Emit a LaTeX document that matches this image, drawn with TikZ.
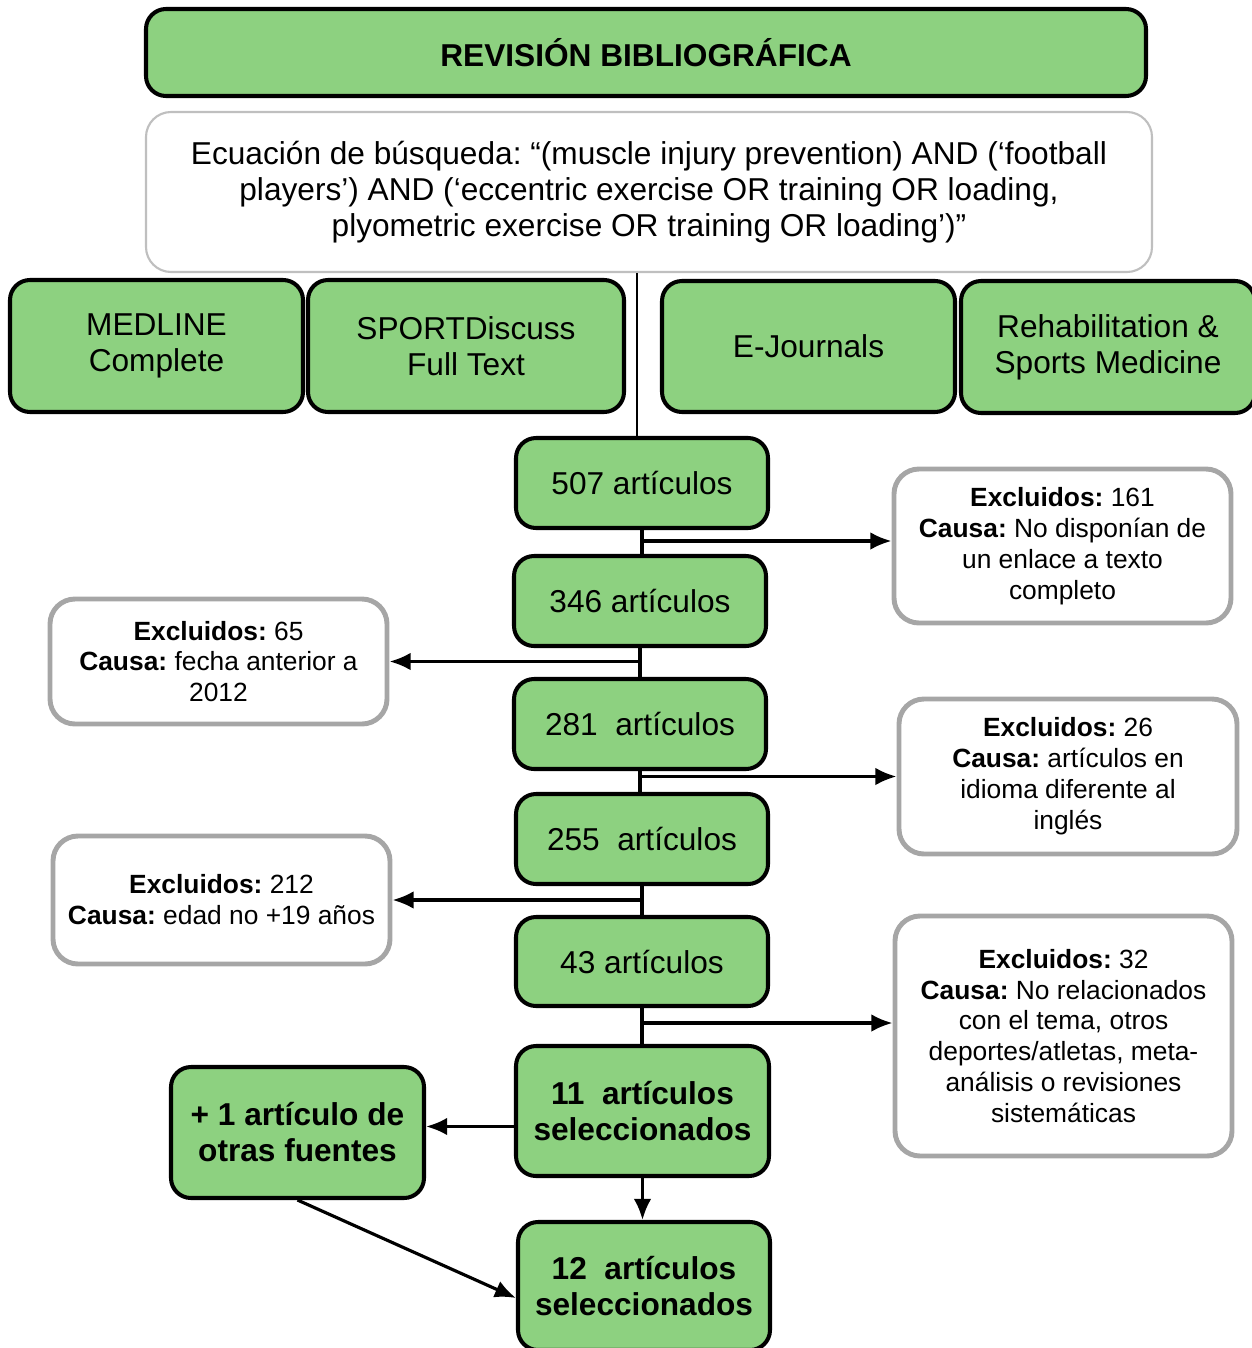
\documentclass[tikz,border=0pt]{standalone}
\usepackage{fontspec}
\setmainfont{Liberation Sans}
\usetikzlibrary{arrows.meta, positioning}
\frenchspacing
\definecolor{boxgreen}{RGB}{141,209,128}
\definecolor{boxgray}{RGB}{166,166,166}
\definecolor{searchgray}{RGB}{191,191,191}
\tikzstyle{arrow} = [line width=1.8pt,->,>={Latex[length=12pt,width=10pt]}]
\tikzstyle{line} = [line width=1.8pt]
\tikzstyle{greenbox} = [rectangle, rounded corners=0.4cm, draw=black, line width=2.3pt, fill=boxgreen, align=center, inner sep=0pt]
\tikzstyle{excluded} = [rectangle, rounded corners=0.5cm, draw=boxgray, line width=2.8pt, fill=white, align=center, inner sep=0pt, minimum width=6.74cm, font=\fontsize{15}{17.6}\selectfont]
\tikzset{
	searchbox/.style = {rectangle, rounded corners=0.5cm, draw=searchgray, line width=1.2pt,
		fill=white, align=center, inner sep=0pt,
		minimum width=20.12cm, minimum height=3.2cm},
	stagebox/.style = {greenbox, minimum width=5.04cm, minimum height=1.8cm},
}

\begin{document}
\begin{tikzpicture}[font=\fontsize{18}{20.5}\selectfont]
\useasboundingbox (0,0) rectangle (25.04,-26.96);
% Placement of header and databases
\node (title) [greenbox, minimum width=20cm, minimum height=1.74cm] at (12.92,-1.05) {\textbf{REVISIÓN BIBLIOGRÁFICA}};
\node (search) [searchbox] at (12.98,-3.84) {Ecuación de búsqueda: “(muscle injury prevention) AND (‘football\\ players’) AND (‘eccentric exercise OR training OR loading,\\ plyometric exercise OR training OR loading’)”};
\node (medline) [greenbox, minimum width=5.86cm, minimum height=2.64cm] at (3.13,-6.92) {MEDLINE\\ Complete};
\node (sport) [greenbox, minimum width=6.32cm, minimum height=2.64cm] at (9.32,-6.92) {SPORTDiscuss\\ Full Text};
\node (ejour) [greenbox, minimum width=5.86cm, minimum height=2.62cm] at (16.17,-6.93) {E-Journals};
\node (rehab) [greenbox, minimum width=5.88cm, minimum height=2.64cm] at (22.16,-6.94) {Rehabilitation \&\\ Sports Medicine};

% Placement of stages
\node (n507) [stagebox] at (12.84,-9.66) {507 artículos};
\node (n346) [stagebox] at (12.80,-12.02) {346 artículos};
\node (n281) [stagebox] at (12.80,-14.48) {281~ artículos};
\node (n255) [stagebox] at (12.84,-16.78) {255~ artículos};
\node (n43) [stagebox, minimum height=1.78cm] at (12.84,-19.23) {43 artículos};
\node (n11) [stagebox, minimum width=5.06cm, minimum height=2.6cm] at (12.85,-22.22) {\textbf{11~ artículos}\\ \textbf{seleccionados}};
\node (n12) [stagebox, minimum height=2.56cm] at (12.88,-25.72) {\textbf{12~ artículos}\\ \textbf{seleccionados}};
\node (plus1) [greenbox, minimum width=5.06cm, minimum height=2.62cm] at (5.95,-22.65) {\textbf{+ 1 artículo de}\\ \textbf{otras fuentes}};

% Placement of exclusions
\node (ex161) [excluded, minimum height=3.08cm] at (21.25,-10.92) {\textbf{Excluidos:} 161\\ \textbf{Causa:} No disponían de\\ un enlace a texto\\ completo};
\node (ex65) [excluded, minimum height=2.5cm] at (4.37,-13.23) {\textbf{Excluidos:} 65\\ \textbf{Causa:} fecha anterior a\\ 2012};
\node (ex26) [excluded, minimum width=6.76cm, minimum height=3.1cm] at (21.36,-15.53) {\textbf{Excluidos:} 26\\ \textbf{Causa:} artículos en\\ idioma diferente al\\ inglés};
\node (ex212) [excluded, minimum height=2.56cm] at (4.43,-18.0) {\textbf{Excluidos:} 212\\ \textbf{Causa:} edad no +19 años};
\node (ex32) [excluded, minimum height=4.8cm] at (21.27,-20.72) {\textbf{Excluidos:} 32\\ \textbf{Causa:} No relacionados\\ con el tema, otros\\ deportes/atletas, meta-\\ análisis o revisiones\\ sistemáticas};

% Drawing of Lines
\draw [line, line width=1.2pt] ([xshift=-0.1cm]n507.north |- search.south) -- ([xshift=-0.1cm]n507.north);
\draw [line] (n507.south) -- (n507.south |- n346.north);
\draw [line] (n346.south) -- (n346.south |- n281.north);
\draw [line] (n281.south) -- (n281.south |- n255.north);
\draw [line] (n255.south) -- (n255.south |- n43.north);
\draw [line] (n43.south) -- (n43.south |- n11.north);
\draw [arrow] ([yshift=0.1cm]n507.south |- ex161.west) -- ([yshift=0.1cm]ex161.west);
\draw [arrow] (n346.south |- ex65.east) -- (ex65.east);
\draw [arrow] (n281.south |- ex26.west) -- (ex26.west);
\draw [arrow] (n255.south |- ex212.east) -- (ex212.east);
\draw [arrow] ([yshift=0.26cm]n43.south |- ex32.west) -- ([yshift=0.26cm]ex32.west);
\draw [arrow] ([yshift=0.12cm]n11.west |- plus1.east) -- ([yshift=0.12cm]plus1.east);
\draw [arrow] (n11.south) -- (n11.south |- n12.north);
\draw [arrow] (plus1.south) -- ([yshift=-0.24cm]n12.west);

\end{tikzpicture}
\end{document}
